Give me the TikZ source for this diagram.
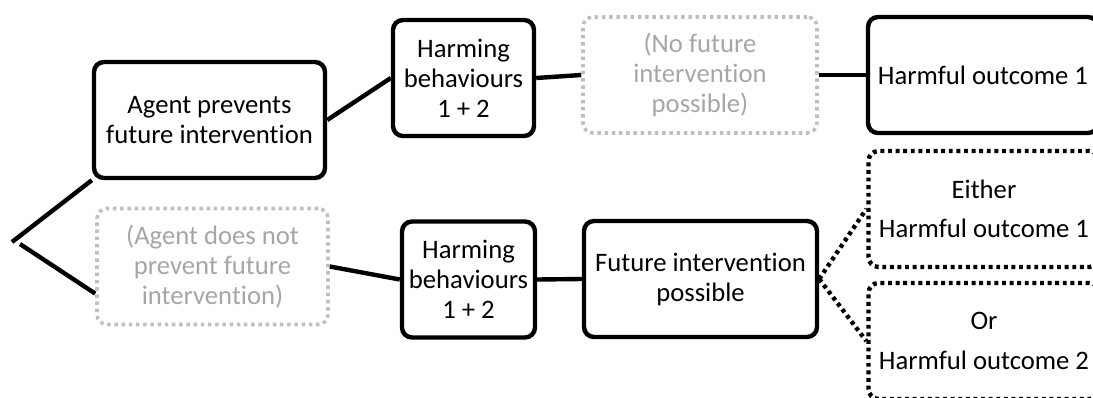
\documentclass[tikz,border=0pt]{standalone}
\usepackage{fontspec}
\setmainfont{Carlito}[Ligatures=NoCommon]
\usepackage{tikz}
\definecolor{ghosttext}{HTML}{A6A6A6}
\definecolor{ghostline}{HTML}{BFBFBF}

\begin{document}
\begin{tikzpicture}[x=0.75pt, y=-0.75pt,
  font=\fontsize{20}{22.5}\selectfont,
  stage/.style={draw, line width=3.3pt, rounded corners=7.5pt, align=center,
    inner sep=0pt, minimum width=173.25pt, minimum height=87pt},
  ghostbox/.style={stage, draw=ghostline, line width=2.7pt,
    dash pattern=on 2.6pt off 2.8pt, text=ghosttext},
  maybebox/.style={stage, dash pattern=on 2.9pt off 2.8pt},
  link/.style={line width=3.3pt},
  maybelink/.style={line width=3.3pt, dash pattern=on 2.9pt off 2.8pt}]
  \useasboundingbox (0,0) rectangle (1093,397);
  \clip (0,0) rectangle (1093,397);

  % Horní větev: agent zabrání zásahu
  \node[stage] (agent) at (209.5,120) {Agent prevents\\future intervention};
  \node[stage, minimum width=105.75pt] (harmtop) at (463.5,78)
    {Harming\\behaviours\\1 + 2};
  \node[ghostbox, minimum width=175.5pt] (nofuture) at (700,75)
    {(No future\\intervention\\possible)};
  \node[stage, minimum width=172.5pt] (outtop) at (983,75) {Harmful outcome 1};

  % Dolní větev: agent nezabrání zásahu
  \node[ghostbox] (noprevent) at (212.5,266.5)
    {(Agent does not\\prevent future\\intervention)};
  \node[stage, minimum width=99.75pt] (harmlow) at (468.5,279.5)
    {Harming\\behaviours\\1 + 2};
  \node[stage, minimum width=174.75pt] (possible) at (700.5,279)
    {Future intervention\\possible};
  \node[maybebox] (either) at (984,209) {Either\\[7pt]Harmful outcome 1};
  \node[maybebox] (orout) at (984,341) {Or\\[7pt]Harmful outcome 2};

  % Rozvětvení
  \coordinate (root) at (12,242);
  \coordinate (rootlow) at (20,244);
  \draw[link] (root) -- (agent.south west);
  \draw[link] (rootlow) -- (noprevent.193);

  % Spojnice
  \draw[link] (agent.east) -- (harmtop.west);
  \draw[link] (harmtop.east) -- (nofuture.west);
  \draw[link] (nofuture.east) -- (outtop.west);
  \draw[link] (noprevent.east) -- (harmlow.west);
  \draw[link] (harmlow.east) -- (possible.west);

  % Možné výsledky
  \draw[maybelink] (possible.east) -- (either.west);
  \draw[maybelink] (possible.east) -- (orout.west);
\end{tikzpicture}
\end{document}
